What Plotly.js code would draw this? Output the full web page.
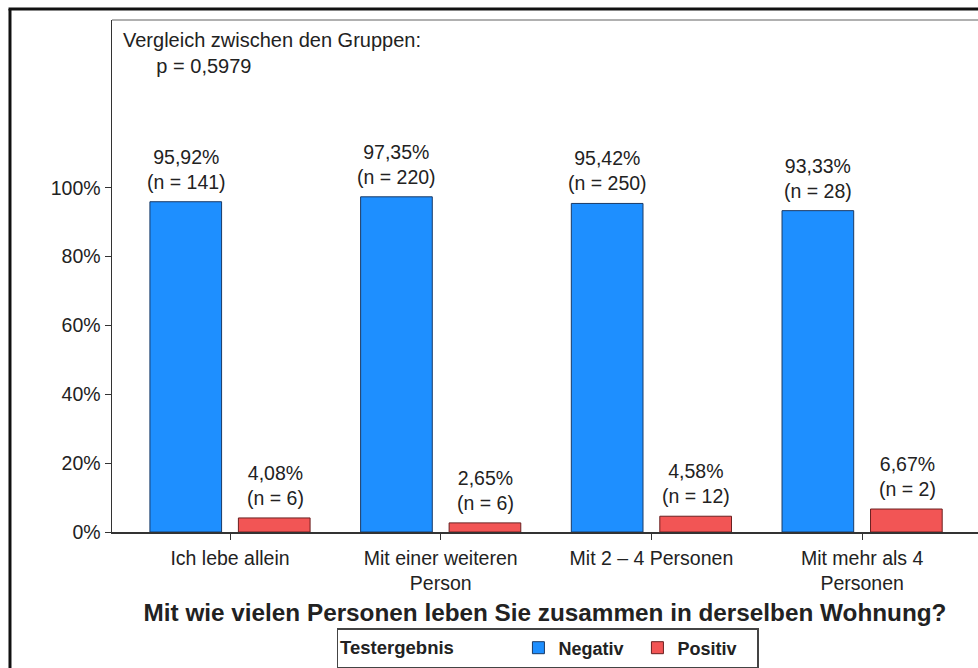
<!DOCTYPE html>
<html>
<head>
<meta charset="utf-8">
<script src="https://cdn.plot.ly/plotly-3.0.1.min.js"></script>
<style>html,body{margin:0;padding:0;background:#fff;}#chart{width:978px;height:668px;}</style>
</head>
<body>
<div id="chart"></div>
<script>
const categories = ["Ich lebe allein", "Mit einer weiteren<br>Person", "Mit 2 – 4 Personen", "Mit mehr als 4<br>Personen"];
const negativPct = [95.92, 97.35, 95.42, 93.33];
const positivPct = [4.08, 2.65, 4.58, 6.67];
const negativN = [141, 220, 250, 28];
const positivN = [6, 6, 12, 2];
const pctLabels = v => v.toFixed(2).replace('.', ',') + '%';
const yTicks = [0, 20, 40, 60, 80, 100];

const FONT = 'Liberation Sans, Arial, sans-serif';
const TXT = '#222222';
const FS = 19.5;

const traces = [
  {type: 'bar', name: 'Negativ', x: categories, y: negativPct,
   marker: {color: '#1E8FFF', line: {color: '#1a3a66', width: 1}}, hoverinfo: 'none'},
  {type: 'bar', name: 'Positiv', x: categories, y: positivPct,
   marker: {color: '#F25555', line: {color: '#6a2020', width: 1}}, hoverinfo: 'none'}
];

const annotations = [];
categories.forEach((c, i) => {
  annotations.push({x: c, y: negativPct[i], xref: 'x', yref: 'y', xshift: -44, yshift: 7,
    yanchor: 'bottom', showarrow: false, align: 'center',
    text: pctLabels(negativPct[i]) + '<br>(n = ' + negativN[i] + ')',
    font: {family: FONT, size: FS, color: TXT}});
  annotations.push({x: c, y: positivPct[i], xref: 'x', yref: 'y', xshift: 45, yshift: 7,
    yanchor: 'bottom', showarrow: false, align: 'center',
    text: pctLabels(positivPct[i]) + '<br>(n = ' + positivN[i] + ')',
    font: {family: FONT, size: FS, color: TXT}});
});
annotations.push({xref: 'paper', yref: 'paper', x: 0.01, y: 0.987, xanchor: 'left', yanchor: 'top',
  showarrow: false, align: 'left',
  text: 'Vergleich zwischen den Gruppen:<br>      p = 0,5979',
  font: {family: FONT, size: 20, color: TXT}});

const layout = {
  width: 978, height: 668,
  margin: {l: 112, r: 0, t: 20, b: 135},
  paper_bgcolor: '#ffffff', plot_bgcolor: '#ffffff',
  barmode: 'group', bargap: 0.16, bargroupgap: 0.19,
  font: {family: FONT, size: FS, color: TXT},
  showlegend: true,
  legend: {orientation: 'h', x: 0.503, xanchor: 'center', y: -0.187, yanchor: 'top',
    bordercolor: '#444', borderwidth: 1.5, bgcolor: '#fff', entrywidth: 74,
    font: {family: FONT, size: 18, color: TXT, weight: 'bold'},
    title: {text: '<b>Testergebnis</b>&nbsp;&nbsp;&nbsp;&nbsp;&nbsp;&nbsp;&nbsp;&nbsp;&nbsp;&nbsp;&nbsp;', side: 'left',
      font: {family: FONT, size: 18.5, color: TXT}},
    itemclick: false, itemdoubleclick: false},
  xaxis: {
    type: 'category', range: [-0.56, 3.55], fixedrange: true,
    showline: true, linecolor: '#333', linewidth: 1.5,
    ticks: 'outside', ticklen: 6, tickcolor: '#333', ticklabelstandoff: 2,
    tickfont: {family: FONT, size: FS, color: TXT},
    showgrid: false, zeroline: false,
    title: {text: '<b>Mit wie vielen Personen leben Sie zusammen in derselben Wohnung?</b>',
      standoff: 10, font: {family: FONT, size: 24.3, color: TXT}}
  },
  yaxis: {
    range: [0, 148.7], fixedrange: true,
    tickvals: yTicks, ticktext: yTicks.map(v => v + '%'),
    showline: true, linecolor: '#333', linewidth: 1.5,
    ticks: 'outside', ticklen: 6, tickcolor: '#333',
    tickfont: {family: FONT, size: FS, color: TXT},
    showgrid: false, zeroline: false
  },
  annotations: annotations,
  shapes: [
    {type: 'line', xref: 'paper', yref: 'paper', x0: 0, x1: 1, y0: 1, y1: 1,
     line: {color: '#b0b0b0', width: 2}},
    {type: 'line', xref: 'paper', yref: 'paper', x0: -0.1195, x1: 1.01, y0: 1.0214, y1: 1.0214,
     line: {color: '#111', width: 3}},
    {type: 'line', xref: 'paper', yref: 'paper', x0: -0.1178, x1: -0.1178, y0: 1.0214, y1: -0.3,
     line: {color: '#111', width: 3}}
  ]
};

Plotly.newPlot('chart', traces, layout, {displayModeBar: false, staticPlot: true});
</script>
</body>
</html>
